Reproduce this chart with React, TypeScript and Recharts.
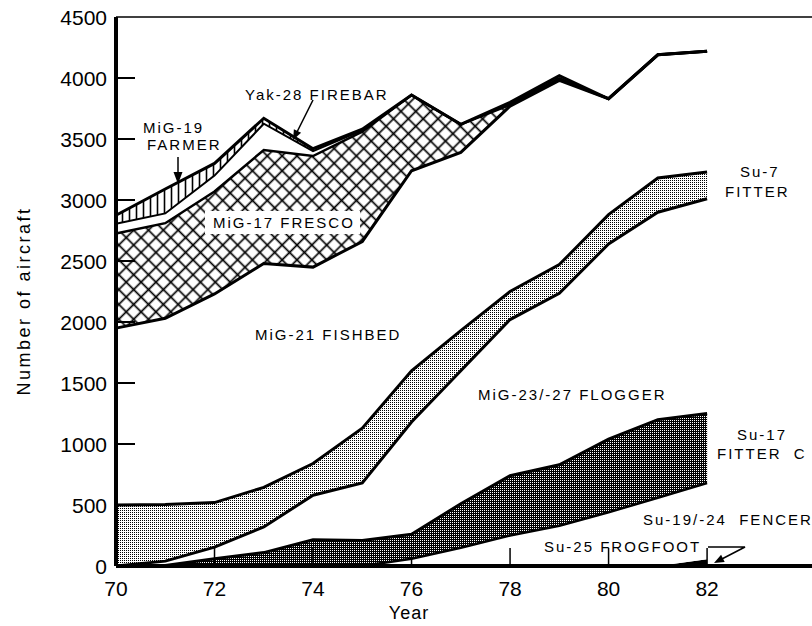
import { ComposedChart, Area, Line, XAxis, YAxis, ReferenceLine } from "recharts";

// Soviet tactical aircraft inventory by type, 1970-82
const years = [70, 71, 72, 73, 74, 75, 76, 77, 78, 79, 80, 81, 82];
const su25 = [0, 0, 0, 0, 0, 0, 0, 0, 0, 0, 0, 0, 55];
const fencer = [0, 0, 0, 0, 0, 0, 60, 150, 250, 330, 440, 560, 625];
const fitterC = [0, 5, 60, 110, 215, 210, 200, 360, 490, 500, 600, 640, 570];
const flogger = [0, 35, 95, 210, 365, 470, 920, 1090, 1280, 1405, 1600, 1700, 1760];
const su7 = [500, 465, 365, 325, 260, 450, 420, 330, 230, 235, 240, 280, 220];
const mig21 = [1450, 1525, 1710, 1835, 1610, 1530, 1640, 1460, 1520, 1510, 950, 1010, 990];
const fresco = [775, 780, 840, 930, 910, 900, 620, 230, 10, 10, 0, 0, 0];
const yak28 = [80, 80, 130, 215, 40, 10, 0, 0, 10, 10, 0, 0, 0];
const mig19 = [70, 200, 100, 45, 20, 10, 0, 0, 10, 20, 0, 0, 0];

const yTicks = [0, 500, 1000, 1500, 2000, 2500, 3000, 3500, 4000, 4500];
const xTicks = [70, 72, 74, 76, 78, 80, 82];

const layers = [
  { key: "su25", values: su25, fill: "#000", edge: 0 },
  { key: "fencer", values: fencer, fill: "#fff", edge: 2.5 },
  { key: "fitterC", values: fitterC, fill: "url(#darkdots)", edge: 3 },
  { key: "flogger", values: flogger, fill: "#fff", edge: 3 },
  { key: "su7", values: su7, fill: "url(#lightdots)", edge: 3 },
  { key: "mig21", values: mig21, fill: "#fff", edge: 3 },
  { key: "fresco", values: fresco, fill: "url(#xhatch)", edge: 2.5 },
  { key: "yak28", values: yak28, fill: "#fff", edge: 2 },
  { key: "mig19", values: mig19, fill: "url(#vstripes)", edge: 3 },
];

const data = years.map((year, i) => {
  const row: Record<string, number> = { year };
  let sum = 0;
  layers.forEach((l) => {
    row[l.key] = l.values[i];
    sum += l.values[i];
    row["top_" + l.key] = sum;
  });
  return row;
});

const FONT = "'Liberation Sans', Arial, Helvetica, sans-serif";

function YTick(props: any) {
  const { x, y, payload } = props;
  const axisX = x + 9;
  const v = payload.value;
  return (
    <g>
      {v > 0 && v < 4500 && (
        <line x1={axisX} x2={axisX + 19} y1={y} y2={y} stroke="#000" strokeWidth={2} />
      )}
      <text x={x} y={y} dy="0.36em" textAnchor="end" fontSize={21} fontFamily={FONT} fill="#000">
        {v}
      </text>
    </g>
  );
}

function XTick(props: any) {
  const { x, y, payload } = props;
  const v = payload.value;
  return (
    <g>
      {v > 70 && <line x1={x} x2={x} y1={y} y2={y - 18} stroke="#000" strokeWidth={1.5} />}
      <text x={x} y={y + 30} textAnchor="middle" fontSize={21} fontFamily={FONT} fill="#000">
        {v}
      </text>
    </g>
  );
}

const lbl = { fontSize: 15, fontFamily: FONT, letterSpacing: 2, fill: "#000" } as const;

export default function App() {
  return (
    <div style={{ position: "absolute", left: 0, top: 0, width: 812, height: 626 }}>
      <svg width={0} height={0} style={{ position: "absolute" }}>
        <defs>
          <pattern id="vstripes" width="7" height="7" patternUnits="userSpaceOnUse">
            <rect width="7" height="7" fill="#fff" />
            <line x1="3.5" y1="0" x2="3.5" y2="7" stroke="#000" strokeWidth="1.6" />
          </pattern>
          <pattern id="xhatch" width="10.5" height="10.5" patternUnits="userSpaceOnUse" patternTransform="rotate(45)">
            <rect width="10.5" height="10.5" fill="#fff" />
            <line x1="0" y1="5.25" x2="10.5" y2="5.25" stroke="#000" strokeWidth="1.7" />
            <line x1="5.25" y1="0" x2="5.25" y2="10.5" stroke="#000" strokeWidth="1.7" />
          </pattern>
          <pattern id="lightdots" width="2" height="2" patternUnits="userSpaceOnUse">
            <rect width="2" height="2" fill="#fff" />
            <rect width="1" height="1" fill="#000" />
          </pattern>
          <pattern id="darkdots" width="2" height="2" patternUnits="userSpaceOnUse">
            <rect width="2" height="2" fill="#000" />
            <rect x="0" y="0" width="1" height="1" fill="#fff" />
          </pattern>
        </defs>
      </svg>
      <ComposedChart width={812} height={626} data={data} margin={{ top: 17, right: 0, bottom: 30, left: 56 }}>
        <XAxis
          dataKey="year"
          type="number"
          domain={[70, 84.13]}
          ticks={xTicks}
          height={30}
          tickSize={0}
          tickMargin={0}
          tickLine={false}
          axisLine={{ stroke: "#000", strokeWidth: 4 }}
          tick={(p: any) => <XTick {...p} />}
        />
        <YAxis
          type="number"
          domain={[0, 4500]}
          ticks={yTicks}
          width={60}
          tickSize={0}
          tickMargin={9}
          tickLine={false}
          axisLine={{ stroke: "#000", strokeWidth: 4 }}
          tick={(p: any) => <YTick {...p} />}
        />
        <ReferenceLine y={4500} stroke="#000" strokeWidth={1.5} />
        {layers.map((l) => (
          <Area
            key={l.key}
            dataKey={l.key}
            stackId="s"
            type="linear"
            fill={l.fill}
            fillOpacity={1}
            stroke="none"
            isAnimationActive={false}
            activeDot={false}
          />
        ))}
        {layers
          .filter((l) => l.edge > 0)
          .map((l) => (
            <Line
              key={"line_" + l.key}
              dataKey={"top_" + l.key}
              type="linear"
              stroke="#000"
              strokeWidth={l.edge}
              dot={false}
              activeDot={false}
              isAnimationActive={false}
            />
          ))}
      </ComposedChart>
      <svg width={812} height={626} style={{ position: "absolute", left: 0, top: 0, pointerEvents: "none" }}>
        <text x={245} y={100} {...lbl}>Yak-28 FIREBAR</text>
        <line x1={313} y1={100} x2={295} y2={136} stroke="#000" strokeWidth={1.5} />
        <polygon points="293,140 301.1,132.8 293.9,129.2" fill="#000" />
        <text x={143} y={133} {...lbl}>MiG-19</text>
        <text x={147} y={150} {...lbl}>FARMER</text>
        <line x1={178} y1={157} x2={178} y2={174} stroke="#000" strokeWidth={1.5} />
        <polygon points="178,184 173.5,172 182.5,172" fill="#000" />
        <rect x={205} y={211} width={155} height={23} fill="#fff" />
        <text x={213} y={228} {...lbl}>MiG-17 FRESCO</text>
        <text x={255} y={340} {...lbl}>MiG-21 FISHBED</text>
        <text x={478} y={400} {...lbl}>MiG-23/-27 FLOGGER</text>
        <text x={740} y={177} {...lbl}>Su-7</text>
        <text x={725} y={197} {...lbl}>FITTER</text>
        <text x={737} y={440} {...lbl}>Su-17</text>
        <text x={717} y={459} {...lbl} style={{ whiteSpace: "pre" }}>FITTER  C</text>
        <text x={643} y={525} {...lbl} style={{ whiteSpace: "pre" }}>Su-19/-24  FENCER</text>
        <text x={544} y={552} {...lbl}>Su-25 FROGFOOT</text>
        <polyline points="708,547 745,547 718,561" fill="none" stroke="#000" strokeWidth={1.5} />
        <polygon points="714,563 724.7,562 721.1,554.8" fill="#000" />
        <text
          x={24}
          y={301}
          transform="rotate(-90 24 301)"
          textAnchor="middle"
          dominantBaseline="central"
          fontSize={18}
          fontFamily={FONT}
          letterSpacing={2.5}
          fill="#000"
        >
          Number of aircraft
        </text>
        <text x={409} y={619} textAnchor="middle" fontSize={18} fontFamily={FONT} letterSpacing={1} fill="#000">
          Year
        </text>
      </svg>
    </div>
  );
}
